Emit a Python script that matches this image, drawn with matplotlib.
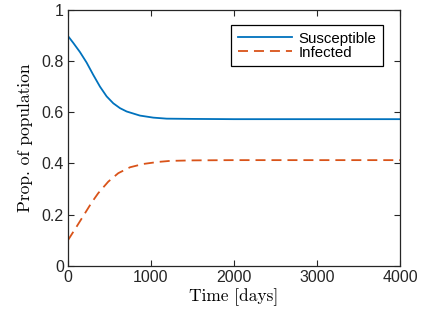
import numpy as np
import matplotlib
matplotlib.use('Agg')
import matplotlib.pyplot as plt
from matplotlib.ticker import FormatStrFormatter

# values
days_s = [0, 64, 145, 225, 305, 386, 466, 546, 627, 707, 867, 1028, 1189, 1500, 2000, 3000, 4000]
susceptible = [0.898, 0.871, 0.835, 0.794, 0.746, 0.700, 0.662, 0.635, 0.616, 0.603, 0.587,
               0.579, 0.575, 0.574, 0.573, 0.573, 0.573]
days_i = [0, 104, 185, 285, 365, 486, 606, 747, 907, 1088, 1229, 1500, 2000, 3000, 4000]
infected = [0.100, 0.153, 0.195, 0.247, 0.284, 0.329, 0.362, 0.385, 0.398, 0.406, 0.410,
            0.412, 0.413, 0.413, 0.413]

plt.rcParams['font.family'] = ['Liberation Sans', 'DejaVu Sans']
plt.rcParams['lines.scale_dashes'] = False

fig = plt.figure(figsize=(4.22, 3.18), dpi=100)
ax = fig.add_axes([0.161, 0.164, 0.787, 0.805])

ax.plot(days_s, susceptible, color='#0072BD', lw=1.3, label='Susceptible')
ax.plot(days_i, infected, color='#D95319', lw=1.3, dashes=(7.2, 4.3), label='Infected')

ax.set_xlim(0, 4000)
ax.set_ylim(0, 1)
ax.set_xticks([0, 1000, 2000, 3000, 4000])
ax.set_yticks([0, 0.2, 0.4, 0.6, 0.8, 1])
ax.yaxis.set_major_formatter(FormatStrFormatter('%g'))
ax.tick_params(direction='in', top=True, right=True, length=4, width=0.8,
               labelsize=11.5, colors='#262626', pad=3)
for s in ax.spines.values():
    s.set_linewidth(0.9)
    s.set_color('#262626')

ax.set_xlabel('Time [days]', family='cmr10', fontsize=12.5, labelpad=2)
ax.set_ylabel('Prop. of population', family='cmr10', fontsize=12.5, labelpad=6)

leg = ax.legend(loc='upper right', bbox_to_anchor=(0.949, 0.941), borderaxespad=0,
                fancybox=False, fontsize=10.8, handlelength=3.6, handletextpad=0.45,
                borderpad=0.45, labelspacing=0.0, framealpha=1)
leg.get_frame().set_edgecolor('black')
leg.get_frame().set_linewidth(0.9)

fig.savefig('out.png', dpi=100)
